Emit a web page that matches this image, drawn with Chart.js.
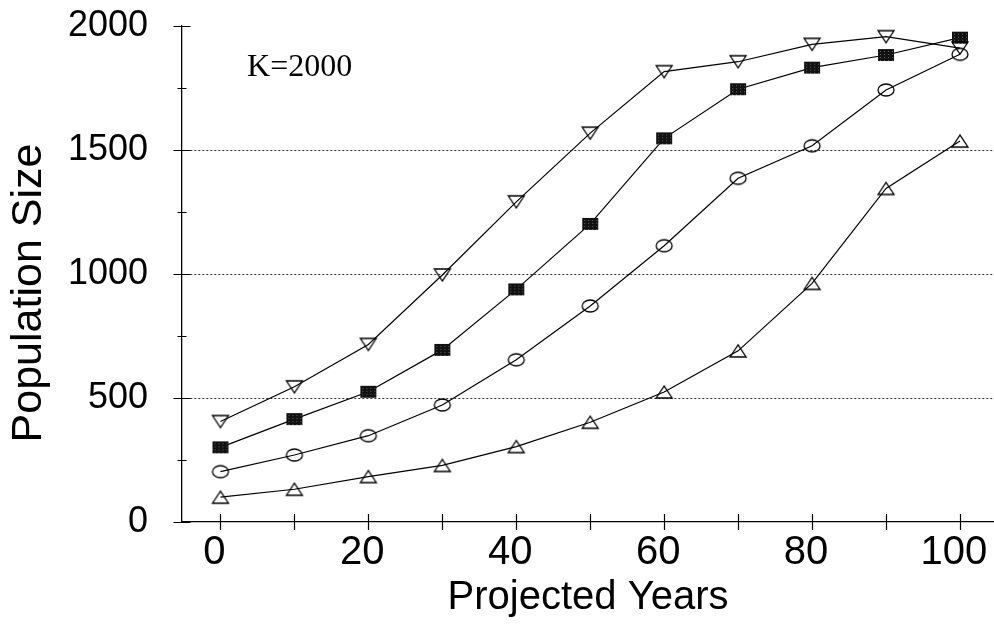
<!DOCTYPE html>
<html>
<head>
<meta charset="utf-8">
<script src="https://cdn.jsdelivr.net/npm/chart.js@4"></script>
<style>
  html, body { margin: 0; padding: 0; background: #fff; }
  #wrap { width: 994px; height: 625px; }
</style>
</head>
<body>
<div id="wrap"><canvas id="popChart" width="994" height="625"></canvas></div>
<script>
// projected years and population size
const years = [0, 10, 20, 30, 40, 50, 60, 70, 80, 90, 100];
const startAt400 = [405, 545, 716, 996, 1291, 1568, 1816, 1856, 1926, 1957, 1911];
const startAt300 = [301, 415, 525, 694, 938, 1202, 1547, 1745, 1832, 1883, 1953];
const startAt200 = [203, 270, 348, 472, 654, 871, 1114, 1386, 1517, 1742, 1886];
const startAt100 = [100, 132, 183, 228, 304, 402, 524, 690, 962, 1345, 1536];

const xTicks = [0, 10, 20, 30, 40, 50, 60, 70, 80, 90, 100];
const yTicks = [0, 250, 500, 750, 1000, 1250, 1500, 1750, 2000];
const yGridAt = [500, 1000, 1500];
const noteText = 'K=2000';
const yTitle = 'Population Size';

// little canvases used as point styles
const makeMarker = (kind) => {
    const c = document.createElement('canvas');
    c.width = 20; c.height = 16;
    const ctx = c.getContext('2d');
    ctx.strokeStyle = '#000';
    ctx.lineWidth = 1.3;
    if (kind === 'down') {
        ctx.beginPath();
        ctx.moveTo(2, 2); ctx.lineTo(18, 2); ctx.lineTo(10, 14); ctx.closePath();
        ctx.stroke();
    } else if (kind === 'up') {
        ctx.beginPath();
        ctx.moveTo(2, 14); ctx.lineTo(18, 14); ctx.lineTo(10, 2); ctx.closePath();
        ctx.stroke();
    } else if (kind === 'square') {
        ctx.fillStyle = '#111';
        ctx.fillRect(2, 2, 16, 12);
        ctx.fillStyle = '#666';
        for (let i = 4; i < 18; i += 4) {
            for (let j = 4; j < 14; j += 3) ctx.fillRect(i, j, 1, 1);
        }
    } else {
        ctx.beginPath();
        ctx.ellipse(10, 8, 8, 6, 0, 0, Math.PI * 2);
        ctx.stroke();
    }
    return c;
};

const toPoints = (arr) => years.map((x, i) => ({x: x, y: arr[i]}));

const lineSet = (arr, kind) => ({
    data: toPoints(arr),
    borderColor: '#000',
    borderWidth: 1.2,
    pointStyle: makeMarker(kind),
    pointRadius: 8,
    pointHoverRadius: 8,
    tension: 0,
    fill: false
});

// axis ticks that cross the axis line, the y title and the K note
const axisTicks = {
    id: 'axisTicks',
    afterDraw(chart) {
        const ctx = chart.ctx;
        const x = chart.scales.x, y = chart.scales.y;
        ctx.save();
        ctx.strokeStyle = '#000';
        ctx.lineWidth = 1.2;
        ctx.beginPath();
        xTicks.forEach(v => {
            const px = Math.round(x.getPixelForValue(v)) + 0.5;
            ctx.moveTo(px, y.bottom - 8);
            ctx.lineTo(px, y.bottom + 8);
        });
        yTicks.forEach(v => {
            const py = Math.round(y.getPixelForValue(v)) + 0.5;
            const len = v % 500 === 0 ? 8.5 : 4.5;
            ctx.moveTo(x.left - len, py);
            ctx.lineTo(x.left + len, py);
        });
        ctx.stroke();
        ctx.fillStyle = '#000';
        ctx.font = '32px "Liberation Serif", "Times New Roman", serif';
        ctx.textBaseline = 'alphabetic';
        ctx.fillText(noteText, x.getPixelForValue(3.6), y.getPixelForValue(1798));

        ctx.translate(29, 293);
        ctx.rotate(-Math.PI / 2);
        ctx.font = '43px "Liberation Sans", Arial, sans-serif';
        ctx.textAlign = 'center';
        ctx.textBaseline = 'middle';
        ctx.fillText(yTitle, 0, 0);
        ctx.restore();
    }
};

new Chart('popChart', {
    type: 'line',
    data: {
        datasets: [
            lineSet(startAt400, 'down'),
            lineSet(startAt300, 'square'),
            lineSet(startAt200, 'circle'),
            lineSet(startAt100, 'up')
        ]
    },
    options: {
        responsive: false,
        animation: false,
        events: [],
        layout: { autoPadding: false, padding: { top: 26, right: 0, left: 0, bottom: 0 } },
        plugins: {
            legend: { display: false },
            tooltip: { enabled: false }
        },
        scales: {
            x: {
                type: 'linear',
                min: -5.2,
                max: 104.6,
                afterFit: (s) => { s.height = 103; s.paddingLeft = 0; s.paddingRight = 0; },
                afterBuildTicks: (s) => { s.ticks = xTicks.map(v => ({value: v})); },
                grid: { display: false, drawTicks: false },
                border: { display: true, color: '#000', width: 1.3 },
                ticks: {
                    autoSkip: false,
                    maxRotation: 0,
                    padding: 7,
                    labelOffset: -6,
                    color: '#000',
                    font: { family: '"Liberation Sans", Arial, sans-serif', size: 40 },
                    callback: (v) => (v % 20 === 0 ? String(v) : '')
                },
                title: {
                    display: true,
                    text: 'Projected Years',
                    color: '#000',
                    padding: { top: 0, bottom: 3 },
                    font: { family: '"Liberation Sans", Arial, sans-serif', size: 40 }
                }
            },
            y: {
                min: 0,
                max: 2000,
                afterFit: (s) => { s.width = 182; s.paddingTop = 0; s.paddingBottom = 0; },
                afterBuildTicks: (s) => { s.ticks = yTicks.map(v => ({value: v})); },
                grid: {
                    drawTicks: false,
                    lineWidth: 1,
                    color: (c) => (yGridAt.includes(c.tick && c.tick.value) ? '#333' : 'rgba(0,0,0,0)')
                },
                border: { display: true, color: '#000', width: 1.3, dash: [2, 2] },
                ticks: {
                    padding: 34,
                    color: '#000',
                    font: { family: '"Liberation Sans", Arial, sans-serif', size: 36 },
                    callback: (v) => (v % 500 === 0 ? String(v) : '')
                },
                title: { display: false }
            }
        }
    },
    plugins: [axisTicks]
});
</script>
</body>
</html>
